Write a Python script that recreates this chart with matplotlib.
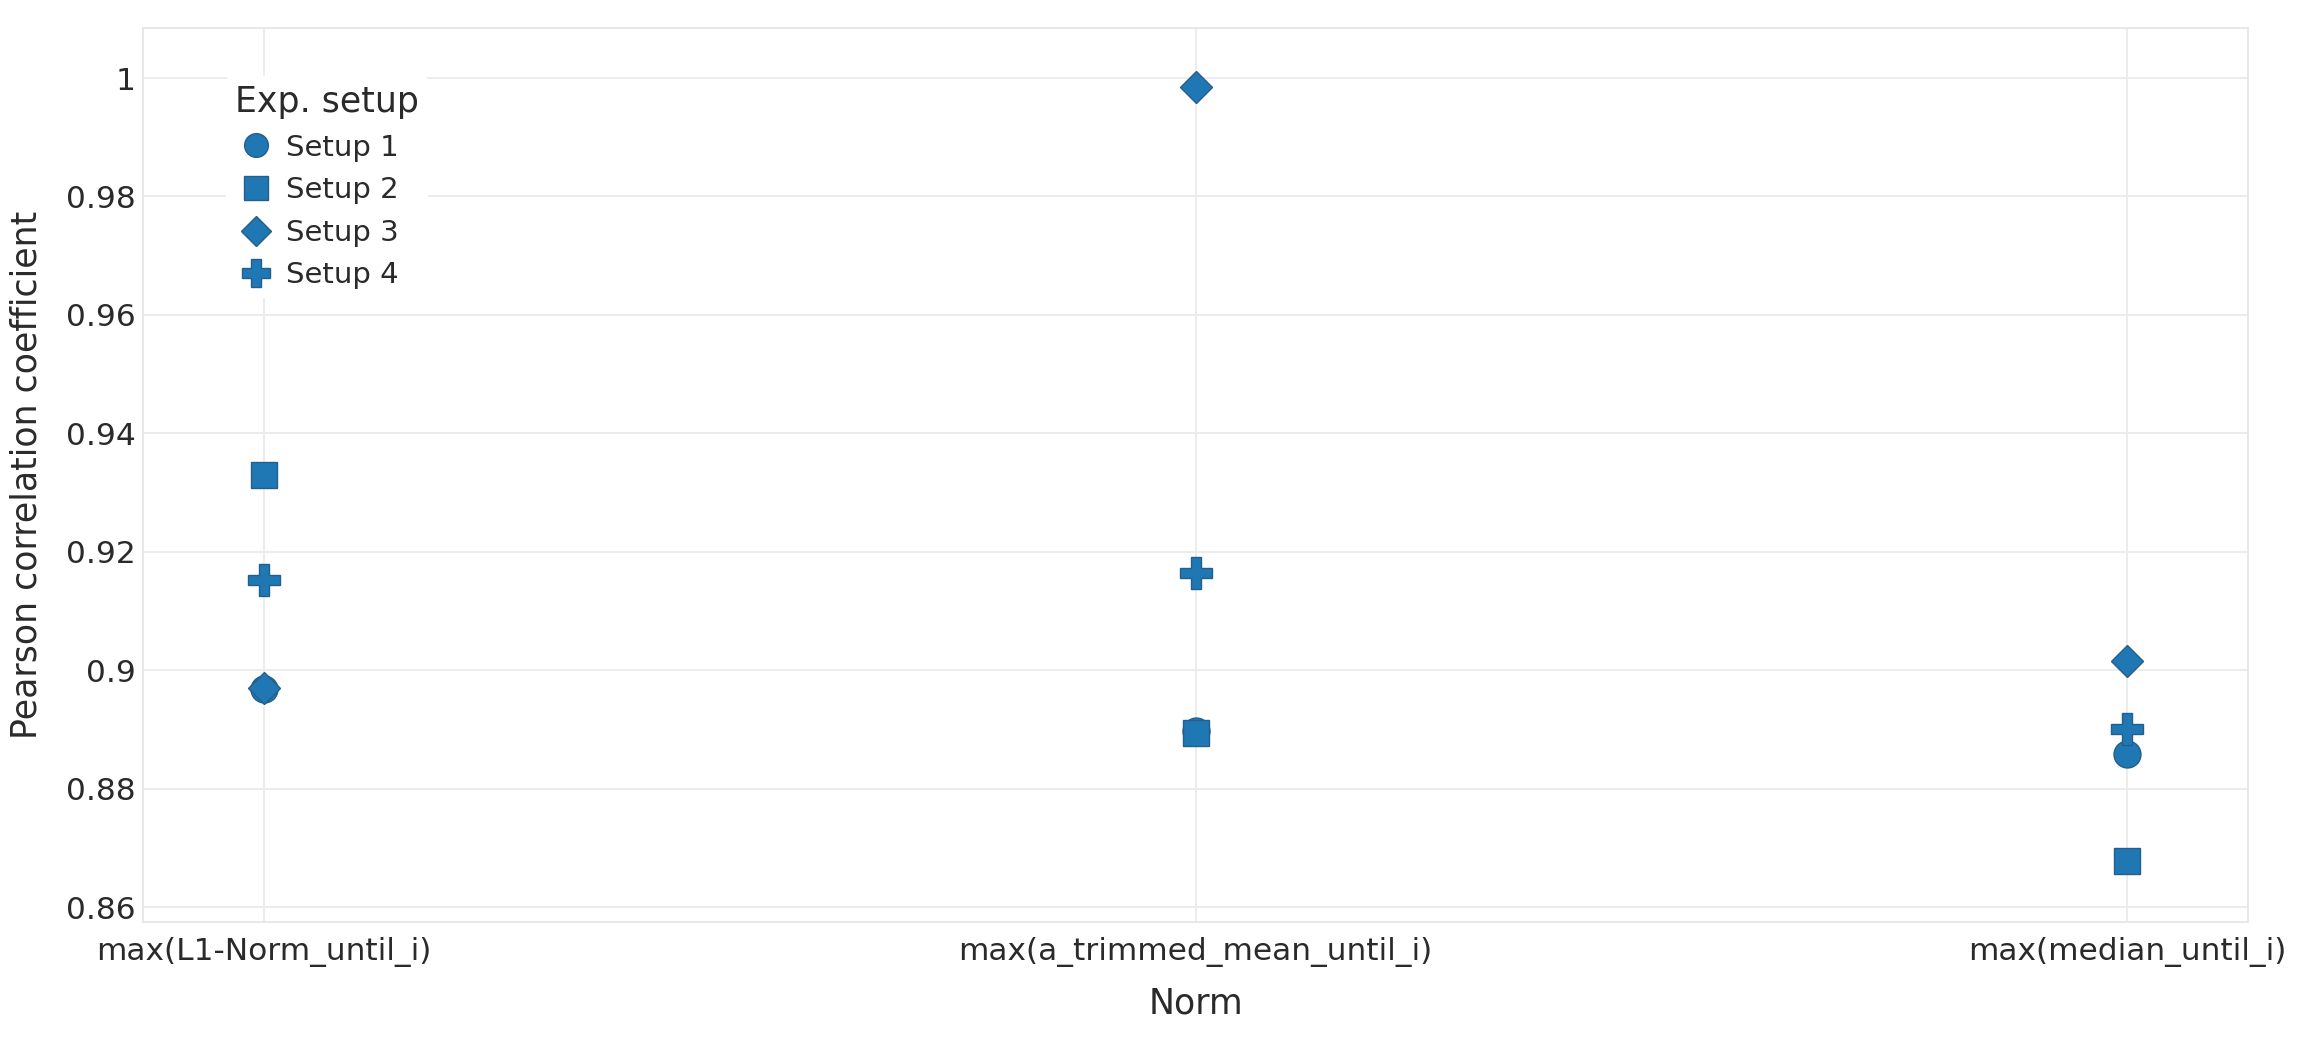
import numpy as np
import matplotlib
matplotlib.use("Agg")
import matplotlib.pyplot as plt
from matplotlib.ticker import FuncFormatter

# data
norms = ["max(L1-Norm_until_i)", "max(a_trimmed_mean_until_i)", "max(median_until_i)"]
setup_names = ["Setup 1", "Setup 2", "Setup 3", "Setup 4"]
setup1 = [0.8968, 0.8898, 0.8858]
setup2 = [0.9330, 0.8894, 0.8678]
setup3 = [0.8970, 0.9984, 0.9016]
setup4 = [0.9153, 0.9165, 0.8901]
y_ticks = [0.86, 0.88, 0.9, 0.92, 0.94, 0.96, 0.98, 1.0]

plt.rcParams['font.family'] = ['DejaVu Sans']

fig = plt.figure(figsize=(23, 10.4), dpi=100)
ax = fig.add_axes([0.0622, 0.1135, 0.9152, 0.8596])

face = '#1f77b4'
edge = '#245f8c'
styles = [('o', 19.4), ('s', 19.4), ('D', 16.8), ('P', 23.0)]

for vals, name, (mk, ms) in zip([setup1, setup2, setup3, setup4], setup_names, styles):
    ax.plot(norms, vals, linestyle='none', marker=mk, markersize=ms,
            markerfacecolor=face, markeredgecolor=edge, markeredgewidth=1.0,
            label=name, zorder=3)

ax.set_xlim(-0.13, 2.13)
ax.set_ylim(0.8575, 1.00845)
ax.set_yticks(y_ticks)
ax.yaxis.set_major_formatter(FuncFormatter(lambda v, p: f"{v:g}"))

ax.grid(True, color='#ebebeb', linewidth=1.3, zorder=0)
ax.set_axisbelow(True)
for s in ax.spines.values():
    s.set_color('#e6e6e6')
    s.set_linewidth(1.3)

ax.tick_params(axis='both', length=0, labelsize=22.5, colors='#2a2a2a')
ax.tick_params(axis='x', pad=11)
ax.tick_params(axis='y', pad=5.5)

ax.set_xlabel("Norm", fontsize=25, color='#2a2a2a', labelpad=14)
ax.set_ylabel("Pearson correlation coefficient", fontsize=25, color='#2a2a2a', labelpad=16)

leg = ax.legend(title="Exp. setup", loc='upper left', bbox_to_anchor=(0.0395, 0.946),
                fontsize=21, title_fontsize=25, frameon=True, facecolor='white',
                edgecolor='none', framealpha=1.0, borderaxespad=0, borderpad=0.3,
                handletextpad=0.3, labelspacing=0.5, handlelength=1.45,
                alignment='left', markerscale=0.88)
for t in leg.get_texts():
    t.set_color('#2a2a2a')
leg.get_title().set_color('#2a2a2a')

fig.savefig("out.png", dpi=100, facecolor='white')
